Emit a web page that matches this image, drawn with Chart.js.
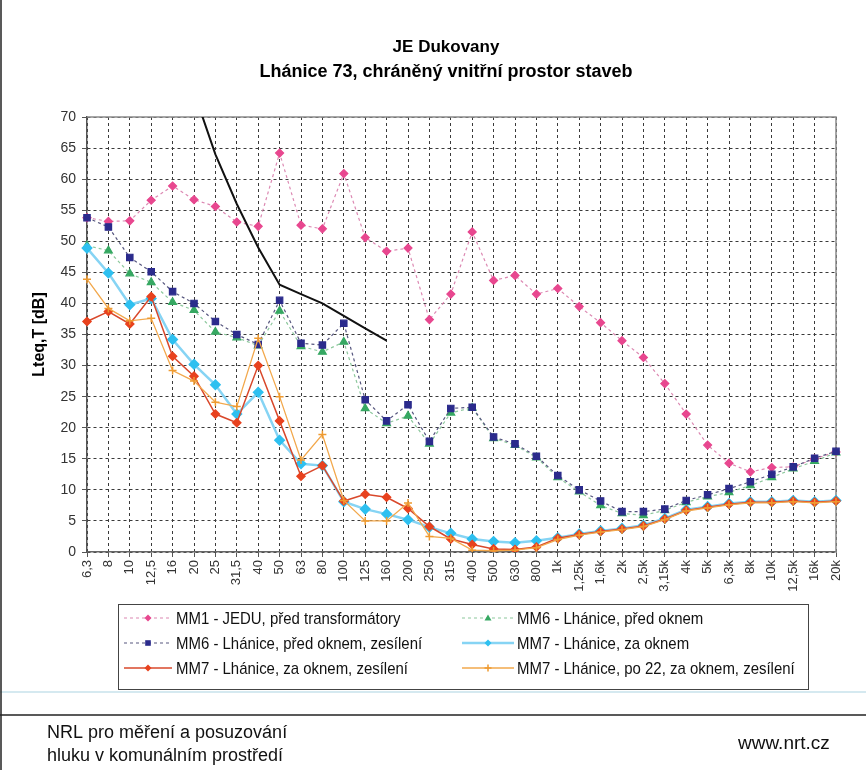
<!DOCTYPE html>
<html>
<head>
<meta charset="utf-8">
<script src="https://cdn.jsdelivr.net/npm/chart.js@4.4.1/dist/chart.umd.min.js"></script>
<style>
  body { margin: 0; background: #fff; }
  canvas { display: block; }
</style>
</head>
<body>
<canvas id="myChart" width="866" height="770"></canvas>
<script>
// kmitočty třetinooktávových pásem
const kmitocty = ["6,3", "8", "10", "12,5", "16", "20", "25", "31,5", "40", "50", "63", "80",
	"100", "125", "160", "200", "250", "315", "400", "500", "630", "800", "1k", "1,25k",
	"1,6k", "2k", "2,5k", "3,15k", "4k", "5k", "6,3k", "8k", "10k", "12,5k", "16k", "20k"];

const mm1Jedu = [53.8, 53.2, 53.3, 56.6, 58.9, 56.7, 55.6, 53.1, 52.4, 64.2, 52.6, 52.0,
	60.9, 50.6, 48.4, 48.9, 37.4, 41.5, 51.5, 43.7, 44.5, 41.5, 42.4, 39.5,
	36.9, 34.0, 31.3, 27.1, 22.2, 17.2, 14.3, 12.9, 13.6, 13.7, 15.0, 16.1];

const mm6PredOknem = [49.3, 48.5, 44.8, 43.4, 40.2, 38.9, 35.4, 34.5, 33.2, 38.8, 33.1, 32.2,
	33.8, 23.1, 20.7, 21.9, 17.4, 22.4, 23.2, 18.3, 17.2, 15.2, 12.0, 9.7,
	7.5, 6.2, 5.9, 6.7, 8.0, 8.9, 9.6, 10.7, 12.0, 13.4, 14.6, 16.0];

const mm6Zesileni = [53.8, 52.3, 47.4, 45.1, 41.9, 40.0, 37.1, 35.0, 33.4, 40.5, 33.6, 33.3,
	36.8, 24.5, 21.1, 23.7, 17.8, 23.1, 23.3, 18.5, 17.4, 15.4, 12.3, 10.0,
	8.2, 6.5, 6.5, 6.9, 8.3, 9.2, 10.2, 11.3, 12.5, 13.7, 15.1, 16.2];

const mm7ZaOknem = [48.9, 44.9, 39.8, 40.8, 34.2, 30.2, 26.9, 22.2, 25.7, 18.0, 14.2, 13.9,
	8.1, 6.9, 6.1, 5.2, 4.0, 3.0, 2.1, 1.7, 1.5, 1.8, 2.3, 2.9,
	3.4, 3.8, 4.3, 5.4, 6.8, 7.3, 7.8, 8.1, 8.1, 8.3, 8.1, 8.3];

const mm7Zesileni = [37.1, 38.7, 36.7, 41.1, 31.5, 28.3, 22.2, 20.8, 30.0, 21.1, 12.2, 13.9,
	8.2, 9.3, 8.8, 7.0, 4.1, 2.1, 1.2, 0.5, 0.4, 0.8, 2.2, 2.8,
	3.3, 3.7, 4.2, 5.3, 6.7, 7.2, 7.7, 8.0, 8.0, 8.2, 8.0, 8.2];

const mm7Po22 = [43.9, 39.2, 37.2, 37.6, 29.2, 27.5, 24.1, 23.4, 34.4, 25.0, 14.8, 18.9,
	8.3, 5.0, 5.0, 7.9, 2.5, 2.2, 0.3, 0.2, 0.3, 0.7, 2.0, 2.7,
	3.2, 3.6, 4.1, 5.2, 6.6, 7.1, 7.6, 7.9, 7.9, 8.1, 7.9, 8.1];

// hygienicky limit (cerna krivka)
const limit = [null, null, null, null, null, 74, 64, 56, 49, 43, 41.5, 40,
	38, 36, 34, null, null, null, null, null, null, null, null, null,
	null, null, null, null, null, null, null, null, null, null, null, null];

const osaY = { min: 0, max: 70, krok: 5 };

const nazvy = [
	"MM1 - JEDU, před transformátory",
	"MM6 - Lhánice, před oknem",
	"MM6 - Lhánice, před oknem, zesílení",
	"MM7 - Lhánice, za oknem",
	"MM7 - Lhánice, za oknem, zesílení",
	"MM7 - Lhánice, po 22, za oknem, zesílení",
];

const FONT = "'Liberation Sans', Arial, sans-serif";

function znacka(ctx, styl, r, x, y) {
	ctx.beginPath();
	if (styl === "rectRot") {
		ctx.moveTo(x, y - r); ctx.lineTo(x + r, y); ctx.lineTo(x, y + r); ctx.lineTo(x - r, y);
		ctx.closePath(); ctx.fill();
	} else if (styl === "rect") {
		ctx.rect(x - r * 0.8, y - r * 0.8, r * 1.6, r * 1.6); ctx.fill();
	} else if (styl === "triangle") {
		ctx.moveTo(x, y - r); ctx.lineTo(x + r, y + r * 0.7); ctx.lineTo(x - r, y + r * 0.7);
		ctx.closePath(); ctx.fill();
	} else if (styl === "cross") {
		ctx.moveTo(x - r, y); ctx.lineTo(x + r, y); ctx.moveTo(x, y - r); ctx.lineTo(x, y + r);
		ctx.stroke();
	}
}

const ramecek = {
	id: "ramecek",
	beforeDatasetsDraw(chart) {
		const { ctx, chartArea: a } = chart;
		ctx.save();
		ctx.strokeStyle = "#8a8a8a";
		ctx.lineWidth = 1.5;
		ctx.beginPath();
		ctx.moveTo(a.left, a.top);
		ctx.lineTo(a.right, a.top);
		ctx.lineTo(a.right, a.bottom);
		ctx.stroke();
		ctx.restore();
	},
	afterDraw(chart) {
		const ctx = chart.ctx;
		ctx.save();
		// nadpis
		ctx.fillStyle = "#000";
		ctx.textAlign = "center";
		ctx.textBaseline = "middle";
		ctx.font = "bold 17px " + FONT;
		ctx.fillText("JE Dukovany", 446, 47);
		ctx.font = "bold 18px " + FONT;
		ctx.fillText("Lhánice 73, chráněný vnitřní prostor staveb", 446, 72);

		// paticka (svetly pruh pod grafem)
		ctx.strokeStyle = "#d5e9f0";
		ctx.lineWidth = 2;
		ctx.beginPath(); ctx.moveTo(0, 692); ctx.lineTo(866, 692); ctx.stroke();

		// legenda
		ctx.fillStyle = "#fff";
		ctx.fillRect(118.5, 604.5, 690, 85);
		ctx.strokeStyle = "#444";
		ctx.lineWidth = 1;
		ctx.strokeRect(118.5, 604.5, 690, 85);
		const poradi = [6, 5, 4, 3, 2, 1]; // index datasetu pro kazdou polozku legendy
		const sloupce = [{ x0: 124, x1: 172, tx: 176 }, { x0: 462, x1: 514, tx: 517 }];
		ctx.font = "17px " + FONT;
		ctx.textAlign = "left";
		nazvy.forEach((n, i) => {
			const ds = chart.data.datasets[poradi[i]];
			const s = sloupce[i % 2];
			const y = 618 + Math.floor(i / 2) * 25;
			ctx.save();
			ctx.strokeStyle = ds.borderColor;
			ctx.lineWidth = ds.borderWidth;
			ctx.setLineDash(ds.borderDash || []);
			ctx.beginPath();
			ctx.moveTo(s.x0, y);
			ctx.lineTo(s.x1, y);
			ctx.stroke();
			ctx.setLineDash([]);
			ctx.fillStyle = ds.pointBackgroundColor;
			ctx.strokeStyle = ds.pointBorderColor;
			ctx.lineWidth = 1.5;
			znacka(ctx, ds.pointStyle, 3.5, (s.x0 + s.x1) / 2, y);
			ctx.restore();
			// uzsi pismo jako v originale
			ctx.save();
			ctx.translate(s.tx, y + 1);
			ctx.scale(0.88, 1);
			ctx.fillStyle = "#111";
			ctx.fillText(n, 0, 0);
			ctx.restore();
		});

		ctx.strokeStyle = "#222";
		ctx.lineWidth = 1.5;
		ctx.beginPath(); ctx.moveTo(0, 715); ctx.lineTo(866, 715); ctx.stroke();
		ctx.beginPath(); ctx.moveTo(1, 0); ctx.lineTo(1, 770); ctx.stroke();
		ctx.fillStyle = "#111";
		ctx.font = "18px " + FONT;
		ctx.fillText("NRL pro měření a posuzování", 47, 733);
		ctx.fillText("hluku v komunálním prostředí", 47, 756);
		ctx.font = "19px " + FONT;
		ctx.fillText("www.nrt.cz", 738, 744);
		ctx.restore();
	}
};

const ctx = document.getElementById("myChart").getContext("2d");

const myChart = new Chart(ctx, {
	type: "line",
	data: {
		labels: kmitocty,
		datasets: [
			{
				label: "limit",
				data: limit,
				borderColor: "#111",
				borderWidth: 2,
				pointRadius: 0,
				spanGaps: false,
			},
			{
				label: nazvy[5],
				data: mm7Po22,
				borderColor: "#F2A84C",
				borderWidth: 1.3,
				pointStyle: "cross",
				pointRadius: 4,
				pointBorderWidth: 1.5,
				pointBackgroundColor: "#EE9A30",
				pointBorderColor: "#EE9A30",
			},
			{
				label: nazvy[4],
				data: mm7Zesileni,
				borderColor: "#D9482B",
				borderWidth: 1.5,
				pointStyle: "rectRot",
				pointRadius: 4,
				pointBackgroundColor: "#E8421E",
				pointBorderColor: "#E8421E",
			},
			{
				label: nazvy[3],
				data: mm7ZaOknem,
				borderColor: "#86D4F4",
				borderWidth: 2.5,
				pointStyle: "rectRot",
				pointRadius: 4,
				pointBackgroundColor: "#2EC0F0",
				pointBorderColor: "#2EC0F0",
			},
			{
				label: nazvy[2],
				data: mm6Zesileni,
				borderColor: "#56567e",
				borderWidth: 1.2,
				borderDash: [3, 3],
				pointStyle: "rect",
				pointRadius: 4.5,
				pointBackgroundColor: "#2B2B8C",
				pointBorderColor: "#2B2B8C",
			},
			{
				label: nazvy[1],
				data: mm6PredOknem,
				borderColor: "#8CC89C",
				borderWidth: 1.2,
				borderDash: [3, 3],
				pointStyle: "triangle",
				pointRadius: 4.5,
				pointBackgroundColor: "#36A862",
				pointBorderColor: "#36A862",
			},
			{
				label: nazvy[0],
				data: mm1Jedu,
				borderColor: "#DC88B2",
				borderWidth: 1.2,
				borderDash: [3, 3],
				pointStyle: "rectRot",
				pointRadius: 4,
				pointBackgroundColor: "#E8478F",
				pointBorderColor: "#E8478F",
			},
		],
	},
	options: {
		responsive: false,
		animation: false,
		layout: { padding: { top: 117, right: 30, bottom: 168, left: 0 } },
		elements: { line: { tension: 0 } },
		plugins: {
			legend: { display: false },
			title: { display: false },
			tooltip: { enabled: false },
		},
		scales: {
			x: {
				offset: false,
				afterFit(scale) { scale.height = 50; },
				grid: {
					color: "#3a3a3a",
					lineWidth: 1,
					tickLength: 5,
					tickColor: "#555",
				},
				border: { color: "#666", width: 1.5, dash: [3, 3] },
				ticks: {
					autoSkip: false,
					maxRotation: 90,
					minRotation: 90,
					padding: 3,
					color: "#333",
					font: { family: FONT, size: 13 },
				},
			},
			y: {
				min: osaY.min,
				max: osaY.max,
				afterFit(scale) { scale.width = 87; },
				grid: {
					color: "#3a3a3a",
					lineWidth: 1,
					tickLength: 5,
					tickColor: "#555",
				},
				border: { color: "#555", width: 1.5, dash: [3, 3] },
				ticks: {
					stepSize: osaY.krok,
					padding: 6,
					color: "#333",
					font: { family: FONT, size: 14 },
				},
				title: {
					display: true,
					text: "Lteq,T [dB]",
					color: "#000",
					font: { family: FONT, size: 16, weight: "bold" },
					padding: { top: 30, bottom: 0 },
				},
			},
		},
	},
	plugins: [ramecek],
});
</script>
</body>
</html>
